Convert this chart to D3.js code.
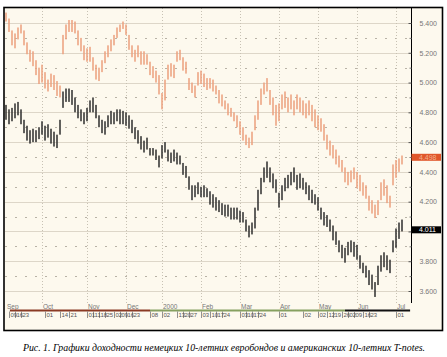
<!DOCTYPE html>
<html><head><meta charset="utf-8">
<script src="https://cdn.jsdelivr.net/npm/d3@7"></script>
<style>
html,body{margin:0;padding:0;background:#fff;}
svg{display:block;}
</style></head>
<body>
<svg id="c" width="447" height="357"></svg>
<script>
// Orange series (upper) daily high / low
const s1High = [5.47,5.43,5.35,5.33,5.37,5.39,5.35,5.27,5.22,5.21,
5.15,5.10,5.12,5.07,5.02,5.06,5.05,5.01,4.98,5.32,
5.39,5.42,5.42,5.41,5.35,5.30,5.25,5.23,5.24,5.17,
5.12,5.10,5.15,5.21,5.25,5.29,5.32,5.37,5.39,5.41,
5.39,5.32,5.25,5.22,5.25,5.21,5.21,5.19,5.14,5.11,
5.08,5.05,4.93,5.02,5.12,5.13,5.12,5.21,5.22,5.17,
5.14,5.03,5.00,4.98,5.07,5.08,5.06,5.03,5.03,5.02,
4.98,4.95,4.92,4.88,4.86,4.83,4.80,4.78,4.74,4.70,
4.65,4.63,4.67,4.78,4.88,4.96,5.00,5.03,4.95,4.90,
4.85,4.86,4.92,4.94,4.90,4.92,4.88,4.92,4.90,4.88,
4.86,4.88,4.85,4.82,4.78,4.76,4.72,4.65,4.61,4.58,
4.55,4.51,4.48,4.43,4.40,4.41,4.43,4.40,4.38,4.33,
4.31,4.24,4.21,4.18,4.21,4.33,4.35,4.31,4.24,4.45,
4.48,4.49,4.51];
const s1Low = [5.41,5.34,5.25,5.23,5.29,5.33,5.25,5.19,5.14,5.11,
5.05,4.99,5.00,4.96,4.94,4.97,4.95,4.91,4.90,5.19,
5.29,5.34,5.34,5.33,5.25,5.21,5.15,5.14,5.14,5.08,
5.02,5.01,5.07,5.13,5.17,5.21,5.25,5.30,5.34,5.36,
5.32,5.22,5.17,5.14,5.17,5.12,5.12,5.12,5.05,5.03,
5.00,4.92,4.82,4.88,5.02,5.04,5.03,5.14,5.15,5.08,
5.06,4.95,4.93,4.90,4.98,4.99,4.97,4.95,4.96,4.94,
4.92,4.86,4.84,4.82,4.78,4.77,4.74,4.70,4.65,4.61,
4.58,4.56,4.58,4.68,4.75,4.85,4.92,4.94,4.85,4.78,
4.71,4.74,4.82,4.83,4.80,4.82,4.78,4.82,4.80,4.78,
4.76,4.78,4.74,4.70,4.68,4.67,4.61,4.55,4.51,4.49,
4.45,4.43,4.40,4.33,4.31,4.33,4.35,4.29,4.27,4.24,
4.22,4.14,4.12,4.09,4.11,4.21,4.24,4.19,4.16,4.31,
4.36,4.40,4.45];
// Black series (lower) daily high / low
const s2High = [4.85,4.82,4.83,4.86,4.87,4.82,4.75,4.71,4.68,4.69,
4.68,4.70,4.74,4.71,4.72,4.69,4.67,4.65,4.75,4.94,
4.96,4.96,4.95,4.90,4.85,4.82,4.80,4.83,4.88,4.90,
4.85,4.78,4.75,4.74,4.78,4.81,4.80,4.82,4.82,4.81,
4.80,4.78,4.75,4.70,4.68,4.64,4.61,4.63,4.56,4.56,
4.55,4.51,4.58,4.60,4.55,4.53,4.55,4.53,4.51,4.46,
4.44,4.37,4.31,4.31,4.33,4.30,4.31,4.29,4.27,4.25,
4.23,4.21,4.19,4.18,4.18,4.16,4.16,4.16,4.14,4.13,
4.08,4.04,4.06,4.16,4.28,4.36,4.43,4.47,4.43,4.39,
4.35,4.26,4.31,4.36,4.38,4.40,4.43,4.38,4.39,4.36,
4.33,4.31,4.28,4.25,4.23,4.16,4.13,4.11,4.08,4.04,
4.00,3.94,3.91,3.89,3.93,3.94,3.93,3.91,3.84,3.79,
3.77,3.74,3.71,3.66,3.77,3.84,3.86,3.84,3.81,3.94,
4.02,4.06,4.08];
const s2Low = [4.75,4.72,4.74,4.76,4.78,4.72,4.66,4.61,4.59,4.60,
4.60,4.62,4.65,4.61,4.63,4.59,4.57,4.56,4.65,4.83,
4.87,4.87,4.85,4.80,4.76,4.74,4.72,4.74,4.80,4.80,
4.76,4.70,4.66,4.65,4.70,4.72,4.72,4.74,4.72,4.72,
4.71,4.69,4.66,4.62,4.59,4.55,4.53,4.55,4.51,4.51,
4.48,4.43,4.49,4.53,4.47,4.46,4.47,4.45,4.45,4.38,
4.36,4.28,4.21,4.23,4.25,4.23,4.23,4.23,4.18,4.16,
4.14,4.13,4.11,4.10,4.10,4.08,4.08,4.08,4.06,4.06,
4.00,3.96,3.98,4.02,4.14,4.25,4.33,4.36,4.33,4.29,
4.26,4.16,4.21,4.27,4.29,4.31,4.33,4.28,4.29,4.28,
4.25,4.21,4.19,4.18,4.14,4.08,4.04,4.03,4.00,3.94,
3.91,3.86,3.82,3.79,3.84,3.86,3.83,3.81,3.75,3.72,
3.69,3.64,3.61,3.56,3.64,3.73,3.76,3.74,3.72,3.86,
3.89,3.95,4.00];

const monthLabels = ["Sep","Oct","Nov","Dec","2000","Feb","Mar","Apr","May","Jun","Jul"];
const monthIndex  = [0,12,27,40,52,65,78,91,104,117,130];
const dayLabels = ["09","16","23","01","14","21","01","11","18","25","02","09","16","23","08",
  "02","13","20","27","03","10","17","24","03","10","17","24","01",
  "02","02","12","19","26","02","09","16","23","01"];
const dayIndex = [1,3,5,13,18,21,27,29,31,33,36,38,40,42,48,
  52,57,59,61,65,68,70,72,78,80,82,84,91,
  99,104,107,109,112,114,116,119,121,130];
const yTickValues = [3.6,3.8,4.0,4.2,4.4,4.6,4.8,5.0,5.2,5.4];
const yMinorValues = [3.7,3.9,4.1,4.3,4.5,4.7,4.9,5.1,5.3];
const lastLabels = ["4.498","4.011"];
const lastValues = [4.498, 4.011];
const stripStart = [1.3, 48, 113];
const stripEnd   = [48, 113, 134.7];
const stripColors = ["#8a3a24","#86a060","#111"];
const caption = "Рис. 1. Графики доходности немецких 10-летних евробондов и американских 10-летних T-notes.";

const svg = d3.select("#c");
const N = s1High.length;
const x = d3.scaleLinear().domain([0, N-1]).range([6, 402]);
const y = d3.scaleLinear().domain([3.6, 5.4]).range([291, 23]);
const plotTop = 8, plotBottom = 303, axisX = 411;

// chart frame background
svg.append("rect").attr("x",4).attr("y",7).attr("width",439).attr("height",324)
  .attr("fill","#fdf9ee").attr("stroke","none");

// horizontal grid
const g = svg.append("g");
g.selectAll(".hg").data(yTickValues).join("line")
  .attr("x1",5).attr("x2",axisX).attr("y1",d=>Math.round(y(d))+0.5).attr("y2",d=>Math.round(y(d))+0.5)
  .attr("stroke","#ddd6c8").attr("stroke-width",1);
g.selectAll(".hm").data(yMinorValues).join("line")
  .attr("x1",5).attr("x2",axisX).attr("y1",d=>Math.round(y(d))+0.5).attr("y2",d=>Math.round(y(d))+0.5)
  .attr("stroke","#b8b2a6").attr("stroke-width",1).attr("stroke-dasharray","2,8");
// vertical grid
g.selectAll(".vg").data(monthIndex.slice(1)).join("line")
  .attr("x1",d=>Math.round(x(d))+0.5).attr("x2",d=>Math.round(x(d))+0.5)
  .attr("y1",plotTop).attr("y2",plotBottom)
  .attr("stroke","#c8c2b4").attr("stroke-width",1).attr("stroke-dasharray","1,2");

// bars
function bars(hi, lo, color, w){
  svg.append("g").selectAll("rect").data(hi.map((h,i)=>({i,h,l:lo[i]}))).join("rect")
    .attr("x",d=>x(d.i)-w/2).attr("width",w)
    .attr("y",d=>y(d.h)).attr("height",d=>Math.max(1,y(d.l)-y(d.h)))
    .attr("fill",color);
}
bars(s1High, s1Low, "#eca07e", 1.5);
bars(s2High, s2Low, "#2e2e2e", 1.5);

// right axis
svg.append("line").attr("x1",axisX+0.5).attr("x2",axisX+0.5).attr("y1",plotTop).attr("y2",plotBottom)
  .attr("stroke","#000").attr("stroke-width",1);
// labels hidden behind a last-value marker are not shown (as in the reference)
const hidden = v => lastValues.some(m => Math.abs(y(m)-y(v)) < 7);
const ax = svg.append("g").attr("transform",`translate(${axisX+0.5},0)`)
  .call(d3.axisRight(y).tickValues(yTickValues).tickFormat(v => hidden(v) ? "" : d3.format(".3f")(v))
        .tickSizeInner(-3).tickSizeOuter(0).tickPadding(8));
ax.select(".domain").remove();
ax.selectAll("line").attr("stroke","#555");
ax.selectAll("text").attr("font-family","Liberation Sans, Arial, sans-serif")
  .attr("font-size","7px").attr("fill","#777");
const ax2 = svg.append("g").attr("transform",`translate(${axisX+0.5},0)`)
  .call(d3.axisRight(y).tickValues(yMinorValues).tickFormat("").tickSizeInner(-2).tickSizeOuter(0));
ax2.select(".domain").remove();
ax2.selectAll("line").attr("stroke","#777");

// last value markers
const mk = svg.append("g");
const mkFill = ["#e0562a","#000"], mkText = ["#f3b08e","#fff"];
lastValues.forEach((v,k)=>{
  mk.append("rect").attr("x",axisX+0.5).attr("y",y(v)-3.5).attr("width",29.5).attr("height",7)
    .attr("fill",mkFill[k]);
  mk.append("text").attr("x",axisX+8).attr("y",y(v)).attr("dy","0.34em")
    .attr("font-family","Liberation Sans, Arial, sans-serif").attr("font-size","7px")
    .attr("fill",mkText[k]).text(lastLabels[k]);
});

// month labels
svg.append("g").selectAll("text").data(monthLabels).join("text")
  .attr("x",(d,i)=>x(monthIndex[i])+1).attr("y",308.5)
  .attr("font-family","Liberation Sans, Arial, sans-serif").attr("font-size","6.5px")
  .attr("fill","#777").text(d=>d);
// colour strip
svg.append("g").selectAll("line").data(stripColors).join("line")
  .attr("x1",(d,i)=>x(stripStart[i])).attr("x2",(d,i)=>x(stripEnd[i]))
  .attr("y1",310.5).attr("y2",310.5).attr("stroke",d=>d).attr("stroke-width",2);
// day labels
const dl = svg.append("g");
dl.selectAll("line").data(dayIndex).join("line")
  .attr("x1",d=>Math.round(x(d))+0.5).attr("x2",d=>Math.round(x(d))+0.5)
  .attr("y1",311.5).attr("y2",318).attr("stroke","#777").attr("stroke-width",0.8);
dl.selectAll("text").data(dayLabels).join("text")
  .attr("x",(d,i)=>Math.round(x(dayIndex[i]))+1.5).attr("y",317)
  .attr("font-family","Liberation Sans, Arial, sans-serif").attr("font-size","6px")
  .attr("fill","#555").text(d=>d);

// outer border
svg.append("rect").attr("x",4).attr("y",7.5).attr("width",438.5).attr("height",323)
  .attr("fill","none").attr("stroke","#000").attr("stroke-width",1.6);

// caption
const cap = svg.append("text").attr("x",224).attr("y",350.5).attr("text-anchor","middle")
  .attr("font-family","Liberation Serif, Times New Roman, serif").attr("font-style","italic")
  .attr("font-size","10px").attr("fill","#000").text(caption);
const w = cap.node().getComputedTextLength();
cap.attr("font-size", (10*403/w).toFixed(2)+"px");
</script>
</body></html>
